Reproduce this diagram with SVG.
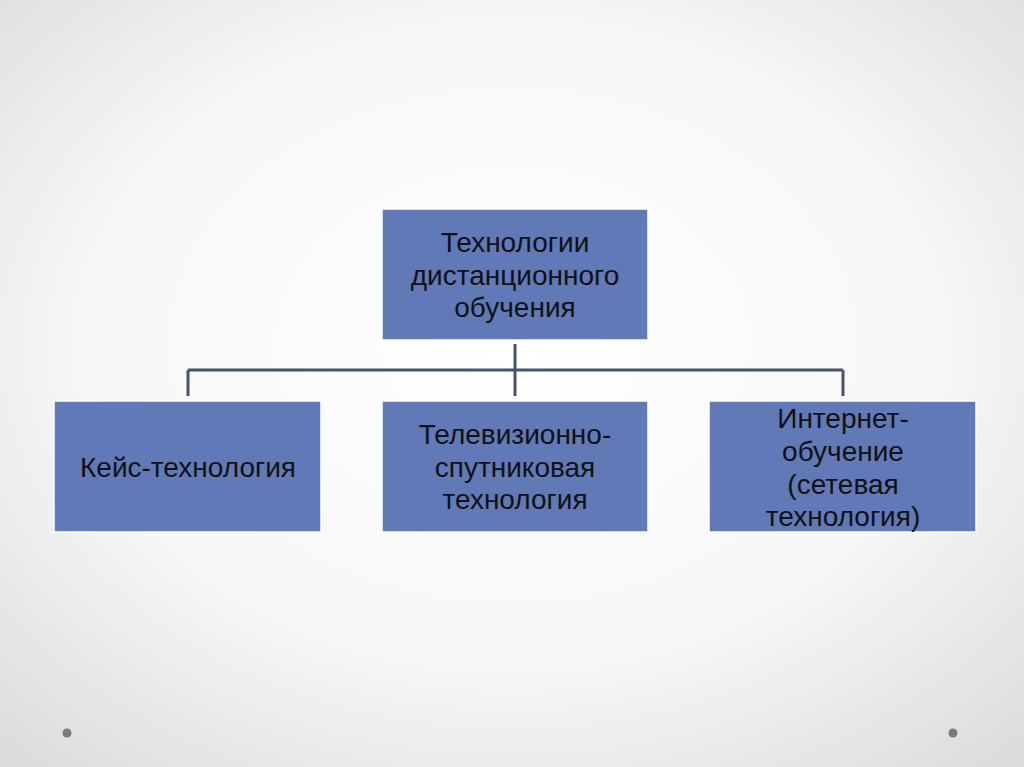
<svg xmlns="http://www.w3.org/2000/svg" width="1024" height="767" viewBox="0 0 1024 767">
<defs>
<radialGradient id="bg" cx="0.5" cy="0.45" r="0.75">
<stop offset="0" stop-color="#ffffff"/>
<stop offset="0.55" stop-color="#f7f7f7"/>
<stop offset="1" stop-color="#dadada"/>
</radialGradient>
<style>
.box{fill:#6179b6;stroke:#ffffff;stroke-width:1.5}
.t{font-family:"Liberation Sans",Arial,sans-serif;font-size:28px;fill:#111111;text-anchor:middle}
.c{stroke:#44546a;stroke-width:3;fill:none}
</style>
</defs>
<rect x="0" y="0" width="1024" height="767" fill="url(#bg)"/>
<circle cx="67" cy="733" r="4.5" fill="#7a7a7a"/>
<circle cx="953" cy="733" r="4.5" fill="#7a7a7a"/>
<g id="connectors">
<path class="c" d="M515 344 V396"/>
<path class="c" d="M188 370 H843"/>
<path class="c" d="M188 370 V396"/>
<path class="c" d="M843 370 V396"/>
</g>
<g id="root">
<rect class="box" x="382" y="209" width="266" height="131"/>
<text class="t" x="515" y="252">Технологии</text>
<text class="t" x="515" y="285">дистанционного</text>
<text class="t" x="515" y="317">обучения</text>
</g>
<g id="case">
<rect class="box" x="54" y="401" width="267" height="131"/>
<text class="t" x="188" y="477">Кейс-технология</text>
</g>
<g id="tv">
<rect class="box" x="382" y="401" width="266" height="131"/>
<text class="t" x="515" y="444">Телевизионно-</text>
<text class="t" x="515" y="477">спутниковая</text>
<text class="t" x="515" y="509">технология</text>
</g>
<g id="internet">
<rect class="box" x="709" y="401" width="267" height="131"/>
<text class="t" x="843" y="428">Интернет-</text>
<text class="t" x="843" y="461">обучение</text>
<text class="t" x="843" y="494">(сетевая</text>
<text class="t" x="843" y="526">технология)</text>
</g>
</svg>
